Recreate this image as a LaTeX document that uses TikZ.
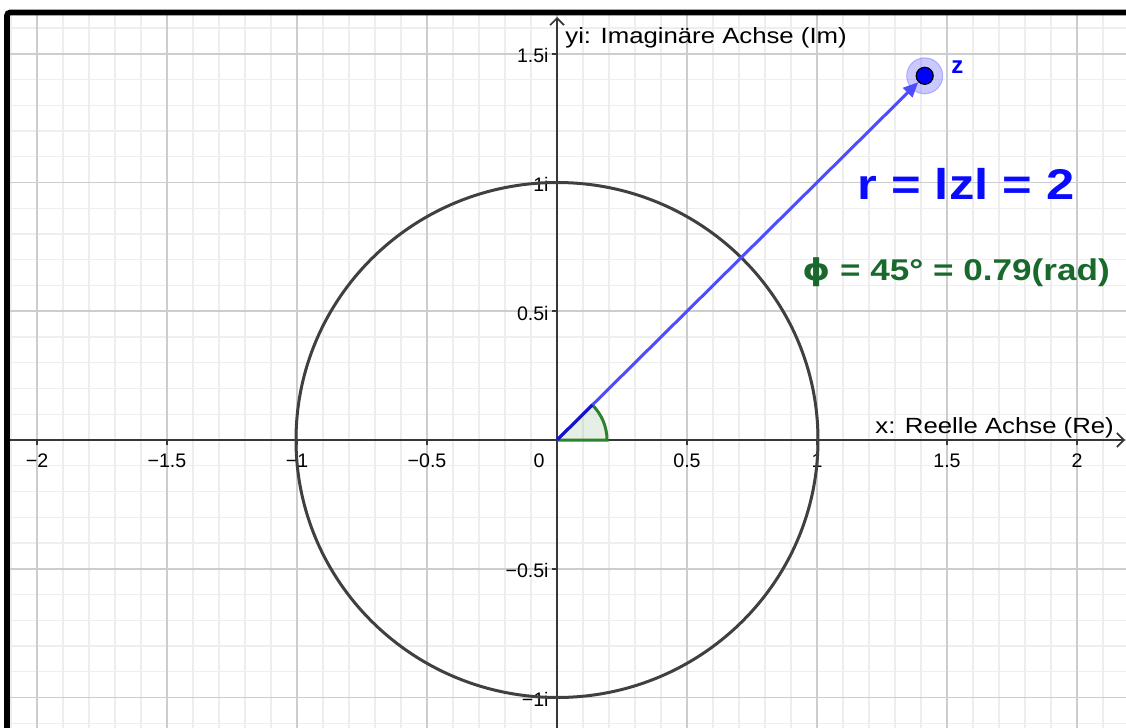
\documentclass[tikz,border=0pt]{standalone}
\usepackage{fontspec}
\setmainfont{Liberation Sans}
\newfontfamily\phifont{DejaVu Sans}
\usepackage{graphicx}
\usetikzlibrary{arrows.meta}
\definecolor{gridminor}{RGB}{238,238,238}
\definecolor{gridmajor}{RGB}{205,205,205}
\definecolor{axiscol}{RGB}{55,55,55}
\definecolor{circcol}{RGB}{64,64,64}
\definecolor{vecblue}{RGB}{77,77,255}
\definecolor{darkseg}{RGB}{20,20,200}
\definecolor{zblue}{RGB}{0,0,255}
\definecolor{anglegreen}{RGB}{45,130,45}
\definecolor{textgreen}{RGB}{25,105,45}
\definecolor{rblue}{RGB}{10,10,255}
\tikzset{
  minorgrid/.style={draw=gridminor, line width=0.6pt},
  majorgrid/.style={draw=gridmajor, line width=0.85pt},
  axisline/.style={draw=axiscol, line width=0.8pt, -{Straight Barb[length=3.5pt,width=7pt]}},
  tickmark/.style={draw=axiscol, line width=0.8pt},
  ticklab/.style={font=\fontsize{9.8}{12}\selectfont, text=black, inner sep=0pt},
  axlab/.style={font=\fontsize{11}{13}\selectfont, text=black, inner sep=0pt},
  circleline/.style={draw=circcol, line width=1.5pt},
  vec/.style={draw=vecblue, line width=1.5pt, -{Triangle[length=7.5pt,width=6.5pt]}},
  darksegment/.style={draw=darkseg, line width=1.5pt},
  anglefill/.style={fill=anglegreen, fill opacity=0.12},
  anglearc/.style={draw=anglegreen, line width=1.5pt},
  zdot/.style={circle, fill=zblue, draw=black, line width=0.6pt, minimum size=8.5pt, inner sep=0pt},
  zhalo/.style={circle, fill=vecblue, fill opacity=0.3, draw=vecblue, draw opacity=0.35, line width=0.5pt, minimum size=18pt, inner sep=0pt},
  zlab/.style={font=\bfseries\fontsize{12}{14}\selectfont, text=zblue, inner sep=0pt},
  rlab/.style={font=\bfseries\fontsize{21.5}{25}\selectfont, text=rblue, inner sep=0pt},
  philab/.style={font=\bfseries\fontsize{15}{18}\selectfont, text=textgreen, inner sep=0pt},
  frameline/.style={draw=black, line width=2.8pt, rounded corners=1.5pt}
}
\begin{document}
\begin{tikzpicture}[x=0.5pt,y=-0.5pt]
\useasboundingbox (0,0) rectangle (1126,728);
\fill[white] (0,0) rectangle (1126,728);
% grid
\begin{scope}
\clip (7,12.5) rectangle (1126,728);
\foreach \i in {-21,...,22} \draw[minorgrid] ({557+26*\i},0) -- ({557+26*\i},728);
\foreach \j in {-17,...,11} \draw[minorgrid] (0,{440+25.75*\j}) -- (1126,{440+25.75*\j});
\foreach \i in {-4,...,4} \draw[majorgrid] ({557+130*\i},0) -- ({557+130*\i},728);
\foreach \j in {-3,...,2} \draw[majorgrid] (0,{440+128.75*\j}) -- (1126,{440+128.75*\j});
\end{scope}
% axes
\coordinate (O) at (557,440);
\coordinate (xs) at (7,440);
\coordinate (xe) at (1125,440);
\coordinate (ys) at (557,728);
\coordinate (ye) at (557,17);
\draw[axisline] (xs) -- (xe);
\draw[axisline] (ys) -- (ye);
\foreach \i in {-4,-3,-2,-1,1,2,3,4} \draw[tickmark] ({557+130*\i},440) -- ++(0,5);
\foreach \j in {-3,-2,-1,1,2} \draw[tickmark] (557,{440+128.75*\j}) -- ++(-5,0);
% tick labels
\foreach \x/\t [count=\k] in {37/−2,167/−1.5,297/−1,427/−0.5,539/0,687/0.5,817/1,947/1.5,1077/2}
  \node[ticklab, anchor=base] (xt\k) at (\x,467) {\t};
\foreach \y/\t [count=\k] in {53.75/1.5i,182.75/1i,311.5/0.5i,568.75/−0.5i,697.5/−1i}
  \node[ticklab, anchor=base east] (yt\k) at (549,{\y+9}) {\t};
% axis labels
\node[axlab, anchor=base west] (ylab) at (565,43) {\scalebox{1.17}[1]{yi: Imaginäre Achse (Im)}};
\node[axlab, anchor=base west] (xlab) at (875,433) {\scalebox{1.17}[1]{x: Reelle Achse (Re)}};
% unit circle
\draw[circleline] (O) ellipse [x radius=261, y radius=257.5];
% angle sector
\coordinate (A0) at (607,440);
\coordinate (A1) at ({557+50*cos(45)},{440-49.5*sin(45)});
\fill[anglefill] (O) -- (A0) arc[start angle=0, end angle=-45, x radius=50, y radius=49.5] -- cycle;
% point z and vector
\node[zhalo] (zh) at (924.7,75.8) {};
\node[zdot] (z) at (924.7,75.8) {};
\draw[vec] (O) -- (z);
\draw[anglearc] (O) -- (A0) arc[start angle=0, end angle=-45, x radius=50, y radius=49.5];
\draw[darksegment] (O) -- (A1);
\node[zlab, anchor=base west] (zl) at (951,73) {z};
% annotations
\node[rlab, anchor=base west] (rl) at (857,199) {\scalebox{1.18}[1]{r = lzl = 2}};
\node[philab, anchor=base west] (pl) at (802,280) {\scalebox{1.17}[1]{{\phifont ϕ} = 45° = 0.79(rad)}};
% frame
\draw[frameline] (7,728) -- (7,12.5) -- (1126,12.5);
\end{tikzpicture}
\end{document}
